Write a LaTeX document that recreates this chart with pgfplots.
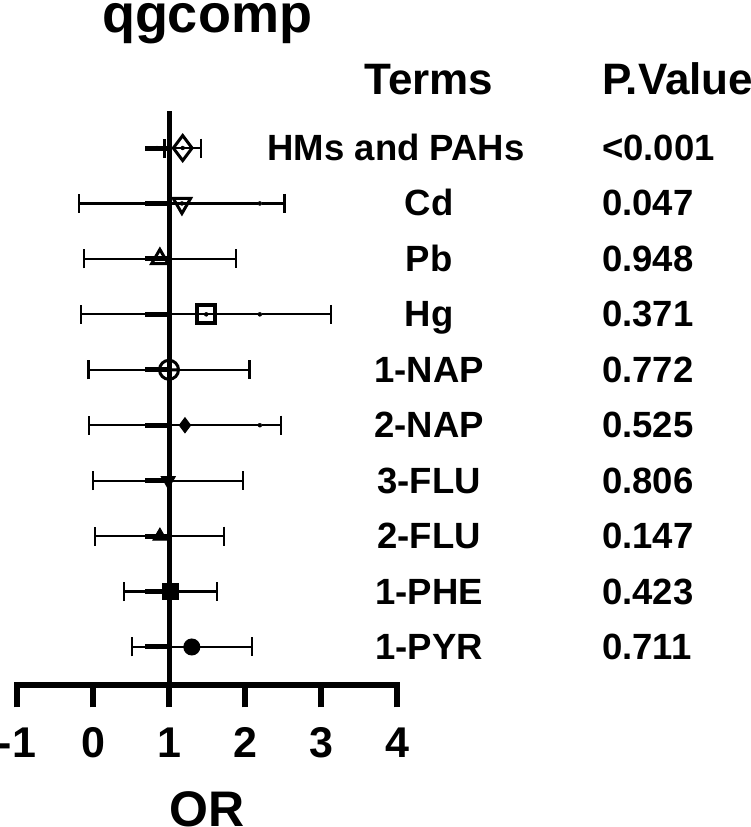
\documentclass[border=0pt]{standalone}
\usepackage{fontspec}
\setmainfont{Liberation Sans}
\usepackage{pgfplots}
\usepackage{pgfplotstable}
\pgfplotsset{compat=1.18}

\newcommand\labf{\fontsize{36.5bp}{40bp}\selectfont\bfseries}
\newcommand\headf{\fontsize{44bp}{48bp}\selectfont\bfseries}
\newcommand\tickf{\fontsize{43bp}{47bp}\selectfont\bfseries}
\newcommand\titf{\fontsize{54bp}{58bp}\selectfont\bfseries}
\newcommand\xlabf{\fontsize{50bp}{54bp}\selectfont\bfseries}

% estimate and 95% CI of OR
\pgfplotstableread{
y est lo hi
10 1.18 0.94 1.42
9 1.17 -0.18 2.52
8 0.88 -0.12 1.88
7 1.49 -0.16 3.13
6 1.00 -0.06 2.06
5 1.21 -0.05 2.47
4 0.99 0.00 1.97
3 0.88 0.03 1.72
2 1.02 0.41 1.63
1 1.30 0.51 2.09
}\ortable

% thick stubs left of the reference line
\pgfplotstableread{
y x err
10 0.842 0.158
9 0.842 0.158
8 0.842 0.158
7 0.842 0.158
6 0.842 0.158
5 0.842 0.158
4 0.842 0.158
3 0.842 0.158
2 0.842 0.158
1 0.842 0.158
}\stubtable

% small white breaks in some CI lines
\pgfplotstableread{
y x err
9 2.195 0.004
7 2.195 0.004
5 2.195 0.004
}\gaptable

\begin{document}
\begin{tikzpicture}
\begin{axis}[
  scale only axis, width=380bp, height=573.8bp,
  xmin=-1, xmax=4, ymin=0.31, ymax=10.66,
  clip=false,
  axis x line=bottom, axis y line=none,
  x axis line style={-, line width=6bp, line cap=rect, black},
  xtick={-1,0,1,2,3,4}, xticklabels={-1,0,1,2,3,4},
  major tick length=22bp, tick align=outside,
  tick style={line width=6bp, black},
  xticklabel style={font=\tickf, anchor=base, yshift=-50bp},
  ytick=\empty,
  title={qgcomp},
  title style={font=\titf, anchor=base, at={(axis description cs:0.5,1)}, yshift=73bp, inner sep=0pt},
  xlabel={OR},
  xlabel style={font=\xlabf, anchor=base, at={(axis description cs:0.5,0)}, yshift=-141.7bp, inner sep=0pt},
]
% CI error bars
\addplot[only marks, mark=none, error bars/.cd, x dir=both, x explicit,
  error bar style={draw=black, line width=2.2bp},
  error mark=|, error mark options={draw=black, line width=2.2bp, mark size=9.5bp}]
  table[x=est, y=y, x error plus expr=\thisrow{hi}-\thisrow{est}, x error minus expr=\thisrow{est}-\thisrow{lo}] {\ortable};
% white breaks
\addplot[only marks, mark=none, error bars/.cd, x dir=both, x explicit,
  error bar style={draw=white, line width=4bp, line cap=rect}, error mark=none]
  table[x=x, y=y, x error=err] {\gaptable};
% thick stubs
\addplot[only marks, mark=none, error bars/.cd, x dir=both, x explicit,
  error bar style={draw=black, line width=5bp}, error mark=none]
  table[x=x, y=y, x error=err] {\stubtable};
% reference line at OR = 1
\addplot[black, line width=5bp, mark=none] coordinates {(1,0.31) (1,10.66)};
% point estimates
\addplot[only marks, mark=diamond, mark size=12.5bp, mark options={line width=3bp, draw=black, fill=none}] coordinates {(1.18,10)};
\addplot[only marks, mark=triangle, mark size=10bp, mark options={rotate=180, line width=3bp, draw=black, fill=none}] coordinates {(1.17,9)};
\addplot[only marks, mark=triangle, mark size=9.5bp, mark options={line width=3bp, draw=black, fill=none}] coordinates {(0.88,8)};
\addplot[only marks, mark=square, mark size=9bp, mark options={line width=4bp, draw=black, fill=none}] coordinates {(1.49,7)};
\addplot[only marks, mark=oplus, mark size=9.5bp, mark options={line width=3bp, draw=black, fill=none}] coordinates {(1.00,6)};
\addplot[only marks, mark=diamond*, mark size=7.5bp, mark options={line width=1bp, draw=black, fill=black}] coordinates {(1.21,5)};
\addplot[only marks, mark=triangle*, mark size=8bp, mark options={rotate=180, line width=1bp, draw=black, fill=black}] coordinates {(0.99,4)};
\addplot[only marks, mark=triangle*, mark size=8bp, mark options={line width=1bp, draw=black, fill=black}] coordinates {(0.88,3)};
\addplot[only marks, mark=square*, mark size=8bp, mark options={line width=1bp, draw=black, fill=black}] coordinates {(1.02,2)};
\addplot[only marks, mark=*, mark size=8bp, mark options={line width=1bp, draw=black, fill=black}] coordinates {(1.30,1)};
% text columns
\node[anchor=base, font=\headf, inner sep=0pt] at (axis cs:4.421,10.964) {Terms};
\node[anchor=base west, font=\headf, inner sep=0pt] at (axis cs:6.697,10.964) {P.Value};
\node[anchor=base, font=\labf, inner sep=0pt, yshift=-12.5bp] at (axis cs:3.987,10) {HMs and PAHs};
\node[anchor=base, font=\labf, inner sep=0pt, yshift=-12.5bp] at (axis cs:4.421,9) {Cd};
\node[anchor=base, font=\labf, inner sep=0pt, yshift=-12.5bp] at (axis cs:4.421,8) {Pb};
\node[anchor=base, font=\labf, inner sep=0pt, yshift=-12.5bp] at (axis cs:4.421,7) {Hg};
\node[anchor=base, font=\labf, inner sep=0pt, yshift=-12.5bp] at (axis cs:4.421,6) {1-NAP};
\node[anchor=base, font=\labf, inner sep=0pt, yshift=-12.5bp] at (axis cs:4.421,5) {2-NAP};
\node[anchor=base, font=\labf, inner sep=0pt, yshift=-12.5bp] at (axis cs:4.421,4) {3-FLU};
\node[anchor=base, font=\labf, inner sep=0pt, yshift=-12.5bp] at (axis cs:4.421,3) {2-FLU};
\node[anchor=base, font=\labf, inner sep=0pt, yshift=-12.5bp] at (axis cs:4.421,2) {1-PHE};
\node[anchor=base, font=\labf, inner sep=0pt, yshift=-12.5bp] at (axis cs:4.421,1) {1-PYR};
\node[anchor=base west, font=\labf, inner sep=0pt, yshift=-12.5bp] at (axis cs:6.697,10) {<0.001};
\node[anchor=base west, font=\labf, inner sep=0pt, yshift=-12.5bp] at (axis cs:6.697,9) {0.047};
\node[anchor=base west, font=\labf, inner sep=0pt, yshift=-12.5bp] at (axis cs:6.697,8) {0.948};
\node[anchor=base west, font=\labf, inner sep=0pt, yshift=-12.5bp] at (axis cs:6.697,7) {0.371};
\node[anchor=base west, font=\labf, inner sep=0pt, yshift=-12.5bp] at (axis cs:6.697,6) {0.772};
\node[anchor=base west, font=\labf, inner sep=0pt, yshift=-12.5bp] at (axis cs:6.697,5) {0.525};
\node[anchor=base west, font=\labf, inner sep=0pt, yshift=-12.5bp] at (axis cs:6.697,4) {0.806};
\node[anchor=base west, font=\labf, inner sep=0pt, yshift=-12.5bp] at (axis cs:6.697,3) {0.147};
\node[anchor=base west, font=\labf, inner sep=0pt, yshift=-12.5bp] at (axis cs:6.697,2) {0.423};
\node[anchor=base west, font=\labf, inner sep=0pt, yshift=-12.5bp] at (axis cs:6.697,1) {0.711};
\coordinate (bbA) at (axis cs:-1.2237,-2.2468);
\coordinate (bbB) at (axis cs:8.645,12.670);
\end{axis}
\pgfresetboundingbox
\useasboundingbox (bbA) rectangle (bbB);
\end{tikzpicture}
\end{document}
